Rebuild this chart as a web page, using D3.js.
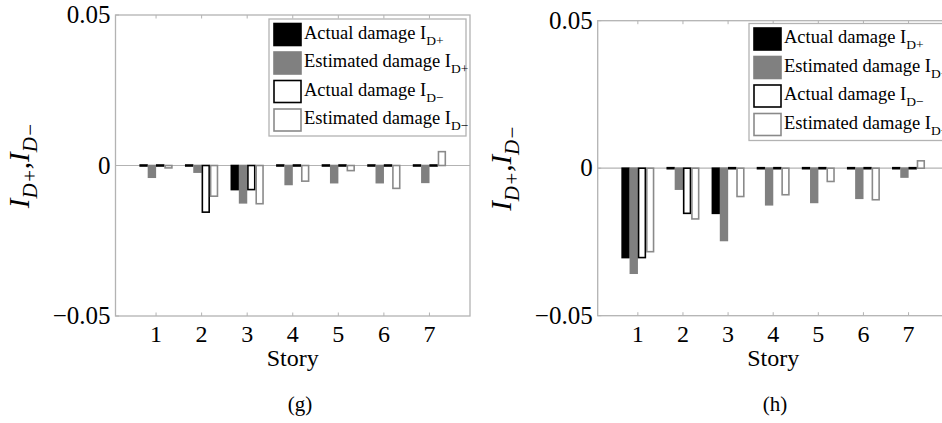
<!DOCTYPE html>
<html>
<head>
<meta charset="utf-8">
<script src="https://cdn.jsdelivr.net/npm/d3@7"></script>
<style>
    body { margin: 0; background: #fff; }
    svg { display: block; font-family: "Liberation Serif", "Times New Roman", serif; }
</style>
</head>
<body>
<div id="chart"></div>
<script>
// stories on the x axis
const stories = [1, 2, 3, 4, 5, 6, 7];
const seriesNames = ['Actual damage I', 'Estimated damage I', 'Actual damage I', 'Estimated damage I'];
const seriesSubs = ['D+', 'D+', 'D\u2212', 'D\u2212'];
const yTicks = [-0.05, 0, 0.05];
const yTickLabels = ['\u22120.05', '0', '0.05'];

// panel (g)
const gActualPos = [0, 0, -0.0080, 0, 0, 0, 0];
const gEstimatedPos = [-0.0039, -0.0022, -0.0124, -0.0063, -0.0057, -0.0057, -0.0056];
const gActualNeg = [0, -0.0155, -0.0080, 0, 0, 0, 0];
const gEstimatedNeg = [-0.0008, -0.0102, -0.0127, -0.0052, -0.0017, -0.0076, 0.0046];

// panel (h)
const hActualPos = [-0.0303, 0, -0.0153, 0, 0, 0, 0];
const hEstimatedPos = [-0.0356, -0.0071, -0.0245, -0.0124, -0.0116, -0.0102, -0.0030];
const hActualNeg = [-0.0303, -0.0153, 0, 0, 0, 0, 0];
const hEstimatedNeg = [-0.0283, -0.0172, -0.0096, -0.0090, -0.0045, -0.0107, 0.0025];

// fill / edge per series
const barStyles = [
    {fill: '#000', stroke: '#000'},
    {fill: '#808080', stroke: '#808080'},
    {fill: '#fff', stroke: '#000'},
    {fill: '#fff', stroke: '#8a8a8a'}
];
const axisGray = '#b3b3b3';

const svg = d3.select('#chart')
    .append('svg')
    .attr('width', 942)
    .attr('height', 423);

function drawPanel(cfg) {
    const x = d3.scaleLinear().domain([0.11, 7.89]).range([cfg.left, cfg.left + cfg.width]);
    const y = d3.scaleLinear().domain([-0.05, 0.05]).range([cfg.bottom, cfg.top]);
    const g = svg.append('g');

    // zero line
    g.append('line')
        .attr('x1', x.range()[0]).attr('x2', x.range()[1])
        .attr('y1', y(0)).attr('y2', y(0))
        .attr('stroke', axisGray).attr('stroke-width', 1.2);

    // grouped bars (zero values still show as a flat dash, like matlab)
    const slot = 0.182, barW = 0.15;
    cfg.series.forEach((vals, s) => {
        const off = (s - 1.5) * slot;
        g.append('g')
            .selectAll('rect')
            .data(vals)
            .enter()
            .append('rect')
            .attr('x', (d, i) => x(stories[i] + off - barW / 2))
            .attr('width', x(barW) - x(0))
            .attr('y', (d) => d === 0 ? y(0) - 0.5 : y(Math.max(d, 0)))
            .attr('height', (d) => Math.max(Math.abs(y(d) - y(0)), 1))
            .attr('fill', barStyles[s].fill)
            .attr('stroke', barStyles[s].stroke)
            .attr('stroke-width', 1.6);
    });

    // box
    g.append('rect')
        .attr('x', x.range()[0]).attr('y', cfg.top)
        .attr('width', cfg.width).attr('height', cfg.bottom - cfg.top)
        .attr('fill', 'none').attr('stroke', axisGray).attr('stroke-width', 1.3);

    // ticks inside the box
    const tk = 3.5;
    stories.forEach((s) => {
        g.append('line').attr('x1', x(s)).attr('x2', x(s))
            .attr('y1', cfg.bottom).attr('y2', cfg.bottom - tk)
            .attr('stroke', axisGray);
        g.append('line').attr('x1', x(s)).attr('x2', x(s))
            .attr('y1', cfg.top).attr('y2', cfg.top + tk)
            .attr('stroke', axisGray);
    });
    yTicks.forEach((t) => {
        g.append('line').attr('x1', cfg.left).attr('x2', cfg.left + tk)
            .attr('y1', y(t)).attr('y2', y(t)).attr('stroke', axisGray);
    });

    // tick labels
    g.selectAll('.xl')
        .data(stories)
        .enter().append('text')
        .attr('x', (d) => x(d))
        .attr('y', cfg.bottom + 26)
        .attr('text-anchor', 'middle')
        .attr('font-size', 24)
        .text((d) => d);
    g.selectAll('.yl')
        .data(yTicks)
        .enter().append('text')
        .attr('x', cfg.left - 5)
        .attr('y', (d) => y(d) + 8)
        .attr('text-anchor', 'end')
        .attr('font-size', 25)
        .text((d, i) => yTickLabels[i]);

    // axis titles
    g.append('text')
        .attr('x', (x.range()[0] + x.range()[1]) / 2)
        .attr('y', cfg.bottom + 50)
        .attr('text-anchor', 'middle')
        .attr('font-size', 24)
        .text('Story');

    const yl = g.append('text')
        .attr('transform', `translate(${cfg.left - 87}, ${y(0)}) rotate(-90)`)
        .attr('text-anchor', 'middle')
        .attr('font-size', 29)
        .attr('font-style', 'italic');
    yl.append('tspan').text('I');
    yl.append('tspan').attr('font-size', 21).attr('dy', 8).text('D+');
    yl.append('tspan').attr('dy', -8).text(',');
    yl.append('tspan').text('I');
    yl.append('tspan').attr('font-size', 21).attr('dy', 8).text('D\u2212');

    // legend
    const lg = g.append('g');
    lg.append('rect')
        .attr('x', cfg.legX).attr('y', cfg.legY)
        .attr('width', 197).attr('height', 117)
        .attr('fill', '#fff').attr('stroke', axisGray).attr('stroke-width', 1.3);
    seriesNames.forEach((name, i) => {
        const ey = cfg.legY + 4.5 + i * 28.5;
        lg.append('rect')
            .attr('x', cfg.legX + 5).attr('y', ey)
            .attr('width', 27).attr('height', 22)
            .attr('fill', barStyles[i].fill)
            .attr('stroke', barStyles[i].stroke)
            .attr('stroke-width', 1.6);
        const t = lg.append('text')
            .attr('x', cfg.legX + 35)
            .attr('y', ey + 15)
            .attr('font-size', 18.5)
            .text(name);
        t.append('tspan').attr('font-size', 13.5).attr('dy', 6).text(seriesSubs[i]);
    });

    // caption
    g.append('text')
        .attr('x', cfg.capX)
        .attr('y', 411)
        .attr('text-anchor', 'middle')
        .attr('font-size', 21)
        .text(cfg.caption);
}

drawPanel({
    left: 115.5, width: 354.5, top: 15, bottom: 316,
    series: [gActualPos, gEstimatedPos, gActualNeg, gEstimatedNeg],
    legX: 269, legY: 19, caption: '(g)', capX: 300
});
drawPanel({
    left: 597.7, width: 351, top: 20.7, bottom: 315.7,
    series: [hActualPos, hEstimatedPos, hActualNeg, hEstimatedNeg],
    legX: 749, legY: 23.5, caption: '(h)', capX: 775
});
</script>
</body>
</html>
